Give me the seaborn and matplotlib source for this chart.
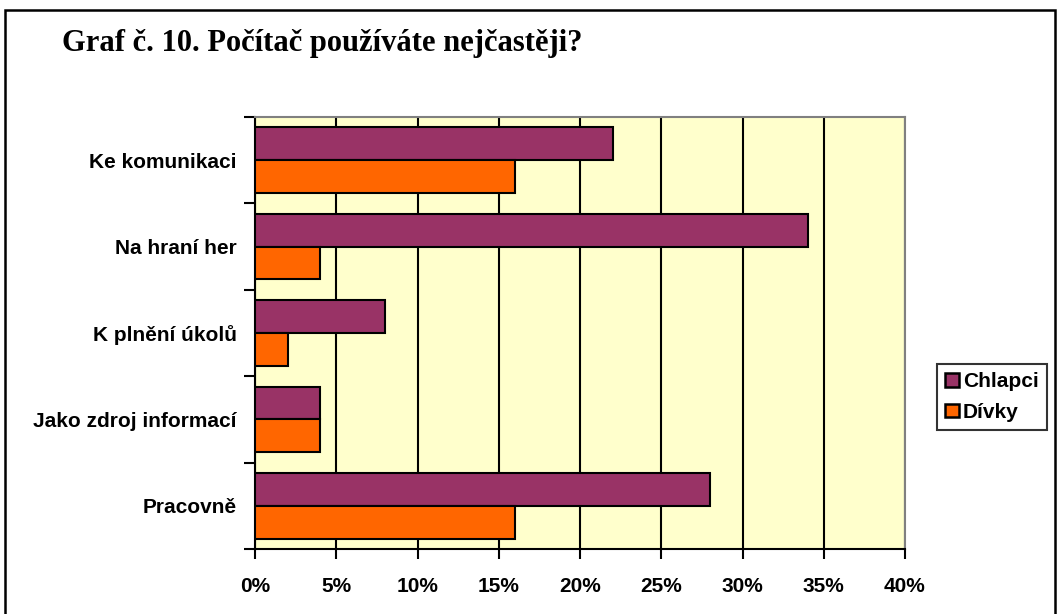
import numpy as np
import pandas as pd
import matplotlib
matplotlib.use("Agg")
import matplotlib.pyplot as plt
import seaborn as sns
from matplotlib.patches import Rectangle
from matplotlib.ticker import PercentFormatter

categories = ["Ke komunikaci", "Na hraní her", "K plnění úkolů", "Jako zdroj informací", "Pracovně"]
chlapci = [22, 34, 8, 4, 28]
divky = [16, 4, 2, 4, 16]
series = ["Chlapci", "Dívky"]
colors = ["#993366", "#FF6600"]
title = "Graf č. 10. Počítač používáte nejčastěji?"

df = pd.DataFrame({
    "kategorie": categories * 2,
    "hodnota": chlapci + divky,
    "skupina": [series[0]] * len(categories) + [series[1]] * len(categories),
})

sns.set_style("white")
plt.rcParams["font.family"] = ["Liberation Sans", "DejaVu Sans"]
plt.rcParams["text.color"] = "black"
plt.rcParams["xtick.color"] = "black"
plt.rcParams["ytick.color"] = "black"
plt.rcParams["xtick.labelcolor"] = "black"
plt.rcParams["ytick.labelcolor"] = "black"

fig = plt.figure(figsize=(10.58, 6.14), dpi=100)
ax = fig.add_axes([255 / 1058, 1 - 549 / 614, 650 / 1058, 432 / 614])
ax.set_facecolor("#FFFFCC")

sns.barplot(data=df, y="kategorie", x="hodnota", hue="skupina", order=categories,
            hue_order=series, palette=colors, saturation=1, orient="h", width=0.76,
            edgecolor="black", linewidth=1.5, ax=ax, legend=True, zorder=3)

ax.set_xlim(0, 40)
ax.set_ylim(4.5, -0.5)
ax.set_xticks(np.arange(0, 41, 5))
ax.xaxis.set_major_formatter(PercentFormatter(decimals=0))
ax.grid(axis="x", color="black", linewidth=1.5, zorder=0)
ax.grid(axis="y", visible=False)
ax.set_axisbelow(True)

ax.set_yticks(np.arange(-0.5, 5, 1), minor=True)
ax.tick_params(axis="y", which="major", length=0, pad=13, labelsize=15)
ax.tick_params(axis="y", which="minor", length=8, width=1.5, direction="out", color="black", left=True)
ax.tick_params(axis="x", length=7.5, width=1.5, direction="out", color="black", bottom=True, pad=13, labelsize=15)
for lab in ax.get_yticklabels() + ax.get_xticklabels():
    lab.set_fontweight("bold")

ax.set_xlabel("")
ax.set_ylabel("")
for s in ["left", "bottom"]:
    ax.spines[s].set_color("black")
    ax.spines[s].set_linewidth(1.5)
for s in ["top", "right"]:
    ax.spines[s].set_color("#808080")
    ax.spines[s].set_linewidth(1.5)

leg = ax.legend(loc="upper left", bbox_to_anchor=(937 / 1058, 1 - 364 / 614),
                bbox_transform=fig.transFigure, frameon=True, fancybox=False,
                edgecolor="black", prop={"weight": "bold", "size": 15},
                handlelength=0.65, handleheight=0.65, handletextpad=0.2,
                borderpad=0.4, labelspacing=0.55, borderaxespad=0)
leg.get_frame().set_linewidth(1.5)
for h in leg.legend_handles:
    h.set_edgecolor("black")
    h.set_linewidth(1.8)

fig.text(62 / 1058, 1 - 43 / 614, title, family=["Liberation Serif", "DejaVu Serif"],
         fontweight="bold", fontsize=22, va="center", ha="left")

fig.patches.append(Rectangle((5 / 1058, -0.05), 1050 / 1058, 1.05 - 10 / 614,
                             transform=fig.transFigure, fill=False,
                             edgecolor="black", linewidth=1.8))

fig.savefig("out.png", dpi=100)
